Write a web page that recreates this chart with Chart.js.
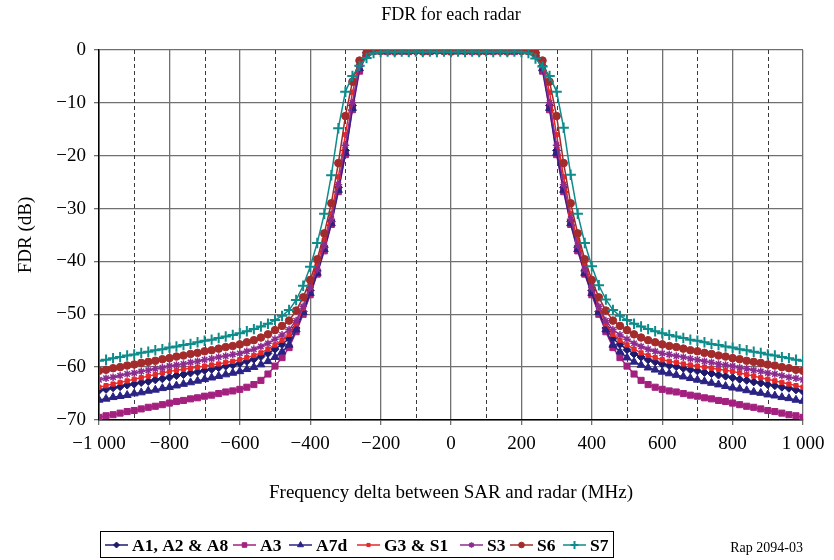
<!DOCTYPE html>
<html>
<head>
<meta charset="utf-8">
<script src="https://cdn.jsdelivr.net/npm/chart.js@4.4.1/dist/chart.umd.min.js"></script>
<style>
  html, body { margin: 0; padding: 0; background: #fff; }
  #wrap { width: 834px; height: 560px; }
</style>
</head>
<body>
<div id="wrap"><canvas id="fdrChart" width="834" height="560"></canvas></div>
<script>
// Frequency delta (MHz), one marker every 20 MHz
const freqs = [
  -1000, -980, -960, -940, -920, -900, -880, -860, -840, -820,
  -800, -780, -760, -740, -720, -700, -680, -660, -640, -620,
  -600, -580, -560, -540, -520, -500, -480, -460, -440, -420,
  -400, -380, -360, -340, -320, -300, -280, -260, -240, -220,
  -200, -180, -160, -140, -120, -100, -80, -60, -40, -20,
  0,
  20, 40, 60, 80, 100, 120, 140, 160, 180, 200,
  220, 240, 260, 280, 300, 320, 340, 360, 380, 400,
  420, 440, 460, 480, 500, 520, 540, 560, 580, 600,
  620, 640, 660, 680, 700, 720, 740, 760, 780, 800,
  820, 840, 860, 880, 900, 920, 940, 960, 980, 1000
];

const seriesNames = ['A1, A2 & A8', 'A3', 'A7d', 'G3 & S1', 'S3', 'S6', 'S7'];

// FDR (dB)
const fdrA1 = [
  -64.4, -64.2, -63.9, -63.7, -63.4, -63.2, -62.9, -62.7, -62.4, -62.2,
  -61.9, -61.6, -61.4, -61.1, -60.9, -60.6, -60.4, -60.1, -59.8, -59.6,
  -59.3, -58.9, -58.5, -58.0, -57.4, -56.6, -55.7, -54.6, -52.6, -49.5,
  -45.5, -41.8, -37.3, -32.4, -26.0, -19.0, -10.5, -3.0, -0.5, -0.2,
  -0.2, -0.1, -0.3, -0.2, -0.1, -0.3, -0.2, -0.1, -0.2, -0.3,
  -0.1,
  -0.2, -0.3, -0.1, -0.2, -0.3, -0.2, -0.1, -0.3, -0.2, -0.1,
  -0.2, -0.5, -3.0, -10.5, -19.0, -26.0, -32.4, -37.3, -41.8, -45.5,
  -49.5, -52.6, -54.6, -55.7, -56.7, -57.5, -58.1, -58.6, -59.0, -59.4,
  -59.7, -59.9, -60.2, -60.5, -60.7, -61.0, -61.2, -61.5, -61.7, -62.0,
  -62.3, -62.5, -62.8, -63.0, -63.3, -63.5, -63.8, -64.0, -64.3, -64.6
];
const fdrA3 = [
  -69.5, -69.2, -69.0, -68.7, -68.4, -68.2, -67.9, -67.6, -67.4, -67.1,
  -66.8, -66.5, -66.3, -66.0, -65.8, -65.5, -65.3, -65.0, -64.7, -64.5,
  -64.2, -63.8, -63.3, -62.5, -61.3, -59.8, -58.2, -56.3, -53.3, -50.0,
  -46.3, -42.4, -38.0, -33.0, -26.8, -19.8, -11.3, -4.0, -0.8, -0.2,
  -0.1, -0.3, -0.1, -0.2, -0.3, -0.1, -0.2, -0.3, -0.1, -0.2,
  -0.3,
  -0.1, -0.2, -0.3, -0.1, -0.2, -0.3, -0.1, -0.2, -0.3, -0.1,
  -0.2, -0.8, -4.0, -11.3, -19.8, -26.8, -33.0, -38.0, -42.4, -46.3,
  -50.0, -53.3, -56.3, -58.2, -59.8, -61.3, -62.5, -63.3, -63.8, -64.2,
  -64.5, -64.7, -65.0, -65.3, -65.5, -65.8, -66.0, -66.3, -66.5, -66.8,
  -67.1, -67.4, -67.6, -67.9, -68.2, -68.4, -68.7, -69.0, -69.2, -69.5
];
const fdrA7d = [
  -66.2, -66.0, -65.7, -65.5, -65.3, -65.0, -64.8, -64.5, -64.3, -64.0,
  -63.8, -63.5, -63.2, -62.9, -62.6, -62.3, -62.0, -61.7, -61.4, -61.1,
  -60.8, -60.4, -60.0, -59.5, -58.9, -58.1, -57.1, -55.8, -52.9, -49.6,
  -46.0, -42.2, -37.7, -32.8, -26.5, -19.5, -11.0, -3.5, -0.6, -0.2,
  -0.3, -0.2, -0.1, -0.3, -0.2, -0.2, -0.1, -0.3, -0.2, -0.1,
  -0.2,
  -0.3, -0.1, -0.2, -0.2, -0.3, -0.1, -0.2, -0.3, -0.2, -0.1,
  -0.2, -0.6, -3.5, -11.0, -19.5, -26.5, -32.8, -37.7, -42.2, -46.0,
  -49.6, -52.9, -55.8, -57.1, -58.2, -59.0, -59.6, -60.1, -60.5, -60.9,
  -61.2, -61.5, -61.8, -62.1, -62.4, -62.7, -63.0, -63.3, -63.6, -63.9,
  -64.1, -64.4, -64.7, -64.9, -65.2, -65.4, -65.7, -65.9, -66.2, -66.4
];
const fdrG3S1 = [
  -63.8, -63.5, -63.2, -62.9, -62.6, -62.3, -62.0, -61.7, -61.4, -61.1,
  -60.8, -60.6, -60.4, -60.2, -60.0, -59.8, -59.6, -59.4, -59.1, -58.9,
  -58.6, -58.2, -57.8, -57.3, -56.6, -55.8, -54.9, -53.8, -51.8, -48.8,
  -44.5, -40.5, -36.0, -31.0, -24.0, -16.0, -8.0, -2.5, -0.5, -0.2,
  -0.2, -0.3, -0.2, -0.1, -0.2, -0.3, -0.2, -0.1, -0.3, -0.2,
  -0.2,
  -0.1, -0.3, -0.2, -0.1, -0.2, -0.3, -0.2, -0.1, -0.2, -0.3,
  -0.2, -0.5, -2.5, -8.0, -16.0, -24.0, -31.0, -36.0, -40.5, -44.5,
  -48.8, -51.8, -53.8, -54.9, -55.8, -56.6, -57.3, -57.8, -58.2, -58.6,
  -58.9, -59.1, -59.4, -59.6, -59.8, -60.0, -60.2, -60.4, -60.6, -60.8,
  -61.1, -61.4, -61.7, -62.0, -62.3, -62.6, -62.9, -63.2, -63.5, -63.8
];
const fdrS3 = [
  -62.4, -62.1, -61.9, -61.6, -61.3, -61.1, -60.8, -60.6, -60.3, -60.1,
  -59.8, -59.6, -59.4, -59.1, -58.9, -58.6, -58.4, -58.1, -57.9, -57.6,
  -57.4, -57.0, -56.6, -56.1, -55.5, -54.7, -53.9, -52.9, -51.2, -48.5,
  -45.0, -41.5, -37.0, -32.0, -25.5, -18.0, -10.0, -3.0, -0.6, -0.2,
  -0.1, -0.3, -0.2, -0.1, -0.3, -0.2, -0.1, -0.3, -0.2, -0.1,
  -0.2,
  -0.3, -0.1, -0.2, -0.3, -0.1, -0.2, -0.3, -0.1, -0.2, -0.1,
  -0.2, -0.6, -3.0, -10.0, -18.0, -25.5, -32.0, -37.0, -41.5, -45.0,
  -48.5, -51.2, -52.9, -53.9, -54.7, -55.5, -56.1, -56.6, -57.0, -57.4,
  -57.6, -57.9, -58.1, -58.4, -58.6, -58.9, -59.1, -59.4, -59.6, -59.8,
  -60.1, -60.3, -60.6, -60.8, -61.1, -61.3, -61.6, -61.9, -62.1, -62.4
];
const fdrS6 = [
  -60.7, -60.5, -60.2, -60.0, -59.7, -59.5, -59.2, -59.0, -58.8, -58.5,
  -58.3, -58.0, -57.8, -57.5, -57.3, -57.0, -56.8, -56.5, -56.2, -56.0,
  -55.7, -55.3, -54.9, -54.4, -53.8, -53.0, -52.2, -51.2, -49.3, -46.8,
  -43.5, -39.6, -34.7, -29.0, -21.4, -12.5, -6.0, -2.0, -0.5, -0.2,
  -0.2, -0.1, -0.3, -0.1, -0.2, -0.1, -0.3, -0.2, -0.1, -0.2,
  -0.3,
  -0.1, -0.2, -0.1, -0.3, -0.2, -0.1, -0.2, -0.3, -0.1, -0.2,
  -0.2, -0.5, -2.0, -6.0, -12.5, -21.4, -29.0, -34.7, -39.6, -43.5,
  -46.8, -49.3, -51.2, -52.2, -53.0, -53.8, -54.4, -54.9, -55.3, -55.7,
  -56.0, -56.2, -56.5, -56.8, -57.0, -57.3, -57.5, -57.8, -58.0, -58.3,
  -58.5, -58.8, -59.0, -59.2, -59.5, -59.7, -60.0, -60.2, -60.5, -60.7
];
const fdrS7 = [
  -58.8, -58.6, -58.3, -58.1, -57.8, -57.6, -57.3, -57.1, -56.8, -56.6,
  -56.3, -56.1, -55.8, -55.6, -55.3, -55.0, -54.8, -54.5, -54.2, -53.9,
  -53.6, -53.2, -52.8, -52.3, -51.8, -51.1, -50.3, -49.2, -47.3, -44.6,
  -41.0, -36.5, -31.0, -23.7, -14.8, -7.9, -4.9, -3.0, -1.5, -0.6,
  -0.4, -0.3, -0.4, -0.3, -0.4, -0.3, -0.4, -0.3, -0.4, -0.3,
  -0.4,
  -0.3, -0.4, -0.3, -0.4, -0.3, -0.4, -0.3, -0.4, -0.3, -0.4,
  -0.6, -1.6, -3.1, -4.9, -7.9, -14.7, -23.6, -31.0, -36.5, -40.9,
  -44.5, -47.2, -49.2, -50.3, -51.1, -51.8, -52.3, -52.8, -53.2, -53.6,
  -53.9, -54.2, -54.5, -54.8, -55.0, -55.3, -55.6, -55.8, -56.1, -56.3,
  -56.6, -56.8, -57.1, -57.3, -57.6, -57.8, -58.1, -58.3, -58.6, -58.8
];

const yTicks = [0, -10, -20, -30, -40, -50, -60, -70];

const SERIF = "'Liberation Serif', 'Times New Roman', serif";

const styles = [
  { color: '#1e1a6e', pointStyle: 'rectRot', radius: 4, bw: 1 },
  { color: '#a3207f', pointStyle: 'rect', radius: 4.3, bw: 1 },
  { color: '#2b2384', pointStyle: 'triangle', radius: 4.6, bw: 1 },
  { color: '#e5292b', pointStyle: 'rect', radius: 3, bw: 1 },
  { color: '#8c2c8e', pointStyle: 'star', radius: 3.8, bw: 1.5 },
  { color: '#a32b2b', pointStyle: 'circle', radius: 3.8, bw: 1 },
  { color: '#0e8b8b', pointStyle: 'cross', radius: 5.2, bw: 2 }
];
const seriesValues = [fdrA1, fdrA3, fdrA7d, fdrG3S1, fdrS3, fdrS6, fdrS7];

const datasets = seriesNames.map((name, i) => ({
  label: name,
  data: freqs.map((f, k) => ({ x: f, y: seriesValues[i][k] })),
  borderColor: styles[i].color,
  backgroundColor: styles[i].color,
  pointBackgroundColor: styles[i].color,
  pointBorderColor: styles[i].color,
  pointStyle: styles[i].pointStyle,
  pointRadius: styles[i].radius,
  pointBorderWidth: styles[i].bw,
  borderWidth: 1.5,
  tension: 0,
  order: seriesNames.length - i   // last series drawn on top
}));

const fmtNum = (v) => {
  const a = Math.abs(v);
  const s = a >= 1000 ? Math.floor(a / 1000) + ' ' + String(a % 1000).padStart(3, '0') : String(a);
  return v < 0 ? '\u2212' + s : s;
};

// Dashed grid lines at the odd hundreds
const dashedGrid = {
  id: 'dashedGrid',
  beforeDatasetsDraw(chart) {
    const { ctx, chartArea, scales } = chart;
    ctx.save();
    ctx.strokeStyle = '#3a3a3a';
    ctx.lineWidth = 1;
    ctx.setLineDash([4, 3]);
    for (let v = -900; v <= 900; v += 200) {
      const x = Math.round(scales.x.getPixelForValue(v)) + 0.5;
      ctx.beginPath();
      ctx.moveTo(x, chartArea.top);
      ctx.lineTo(x, chartArea.bottom);
      ctx.stroke();
    }
    ctx.restore();
  }
};

// Title, boxed legend and the reference tag
const decorations = {
  id: 'decorations',
  afterDraw(chart) {
    const { ctx, chartArea } = chart;
    ctx.save();
    ctx.fillStyle = '#000';
    ctx.font = '18px ' + SERIF;
    ctx.textAlign = 'center';
    ctx.textBaseline = 'middle';
    ctx.fillText('FDR for each radar', (chartArea.left + chartArea.right) / 2, 15);

    // legend box
    ctx.strokeStyle = '#000';
    ctx.lineWidth = 1;
    ctx.strokeRect(100.5, 531.5, 513, 26);
    const starts = [105, 233, 289, 357, 460, 510, 563];
    const ly = 545;
    chart.data.datasets.forEach((ds, i) => {
      const sx = starts[i];
      ctx.strokeStyle = ds.borderColor;
      ctx.lineWidth = 1.5;
      ctx.beginPath();
      ctx.moveTo(sx, ly);
      ctx.lineTo(sx + 23, ly);
      ctx.stroke();
      ctx.fillStyle = ds.pointBackgroundColor;
      ctx.strokeStyle = ds.pointBorderColor;
      ctx.lineWidth = ds.pointBorderWidth;
      Chart.helpers.drawPoint(ctx, {
        pointStyle: ds.pointStyle,
        radius: ds.pointRadius * 0.75,
        rotation: 0,
        borderWidth: ds.pointBorderWidth
      }, sx + 11.5, ly);
      ctx.fillStyle = '#000';
      ctx.font = 'bold 17.5px ' + SERIF;
      ctx.textAlign = 'left';
      ctx.textBaseline = 'middle';
      ctx.fillText(ds.label, sx + 27, ly + 1);
    });

    ctx.font = '14px ' + SERIF;
    ctx.textAlign = 'right';
    ctx.fillText('Rap 2094-03', 803, 548);
    ctx.restore();
  }
};

const ctx = document.getElementById('fdrChart').getContext('2d');
new Chart(ctx, {
  type: 'line',
  data: { datasets },
  options: {
    responsive: false,
    animation: false,
    layout: { padding: { left: 0, right: 31, top: 50, bottom: 56 } },
    plugins: {
      legend: { display: false },
      title: { display: false },
      tooltip: { enabled: false }
    },
    scales: {
      x: {
        type: 'linear',
        min: -1000,
        max: 1000,
        afterFit: (s) => { s.height = 84; },
        ticks: {
          stepSize: 100,
          autoSkip: false,
          maxRotation: 0,
          padding: 8,
          color: '#000',
          font: { family: SERIF, size: 19 },
          callback: (v) => (v % 200 === 0 ? fmtNum(v) : '')
        },
        grid: {
          color: (c) => (c.tick && c.tick.value % 200 === 0 ? '#707070' : 'rgba(0,0,0,0)'),
          lineWidth: 1.3,
          tickLength: 5,
          drawTicks: true
        },
        border: { color: '#000', width: 1.5 },
        title: {
          display: true,
          text: 'Frequency delta between SAR and radar (MHz)',
          color: '#000',
          font: { family: SERIF, size: 19 },
          padding: { top: 0, bottom: 0 }
        }
      },
      y: {
        min: -70,
        max: 0,
        afterFit: (s) => { s.width = 99; },
        afterBuildTicks: (s) => { s.ticks = yTicks.map((v) => ({ value: v })); },
        ticks: {
          padding: 8,
          color: '#000',
          font: { family: SERIF, size: 19 },
          callback: (v) => fmtNum(v)
        },
        grid: { color: '#707070', lineWidth: 1.3, tickLength: 5 },
        border: { color: '#000', width: 1.5 },
        title: {
          display: true,
          text: 'FDR (dB)',
          color: '#000',
          font: { family: SERIF, size: 19 },
          padding: { top: 15, bottom: 0 }
        }
      }
    }
  },
  plugins: [dashedGrid, decorations]
});
</script>
</body>
</html>
